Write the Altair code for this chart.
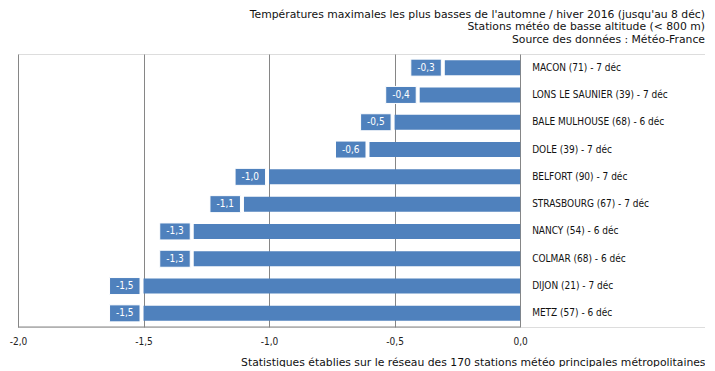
import altair as alt
import pandas as pd

stations = [
    "MACON (71) - 7 déc",
    "LONS LE SAUNIER (39) - 7 déc",
    "BALE MULHOUSE (68) - 6 déc",
    "DOLE (39) - 7 déc",
    "BELFORT (90) - 7 déc",
    "STRASBOURG (67) - 7 déc",
    "NANCY (54) - 6 déc",
    "COLMAR (68) - 6 déc",
    "DIJON (21) - 7 déc",
    "METZ (57) - 6 déc",
]
values = [-0.3, -0.4, -0.5, -0.6, -1.0, -1.1, -1.3, -1.3, -1.5, -1.5]
value_labels = [f"{v:.1f}".replace(".", ",") for v in values]
tick_values = [-2.0, -1.5, -1.0, -0.5, 0.0]
title_lines = [
    "Températures maximales les plus basses de l'automne / hiver 2016 (jusqu'au 8 déc)",
    "Stations météo de basse altitude (< 800 m)",
    "Source des données : Météo-France",
]
footer = "Statistiques établies sur le réseau des 170 stations météo principales métropolitaines"

df = pd.DataFrame({"station": stations, "value": values, "label": value_labels})
axis_line = pd.DataFrame({"value": [-2.0], "end": [0.0]})

FONT = "DejaVu Sans Condensed, Liberation Sans, sans-serif"
WIDE_FONT = "DejaVu Sans, Verdana, sans-serif"
W, H = 687, 273
BLUE = "#4F81BD"
GRID = "#868686"

x = alt.X(
    "value:Q",
    scale=alt.Scale(domain=[-2.0, 0.7363], nice=False, zero=False),
    axis=alt.Axis(
        values=tick_values,
        grid=True,
        gridColor=GRID,
        gridWidth=1,
        gridOpacity=1,
        domain=False,
        ticks=False,
        labelFlush=False,
        labelPadding=9,
        labelFontSize=10,
        labelFont=FONT,
        labelColor="#222222",
        labelExpr="replace(replace(format(datum.value, '.1f'), '.', ','), '\u2212', '-')",
        title=footer,
        titleAnchor="end",
        titleFontSize=10.8,
        titleFont=WIDE_FONT,
        titleFontWeight="normal",
        titleColor="#111111",
        titlePadding=10,
    ),
)
y = alt.Y(
    "station:N",
    sort=None,
    axis=None,
    scale=alt.Scale(paddingInner=0, paddingOuter=0),
)

base = alt.Chart(df)

rule = alt.Chart(axis_line).mark_rule(color=GRID, strokeWidth=1).encode(
    x=x,
    x2="end:Q",
    y=alt.value(H),
)

bars = base.mark_bar(size=15, color=BLUE).encode(x=x, x2=alt.datum(0), y=y)

boxes = base.mark_bar(
    size=17, color=BLUE, stroke="white", strokeWidth=1, xOffset=-34, x2Offset=-3.5
).encode(x=x, x2=alt.X2("value:Q"), y=y)

box_text = base.mark_text(
    color="white", fontSize=10, font=FONT, align="center", baseline="middle", dx=-18.75
).encode(x=x, y=y, text="label:N")

cat_text = base.mark_text(
    color="#111111", fontSize=10, font=FONT, align="left", baseline="middle", dx=12
).encode(x=alt.datum(0), y=y, text="station:N")

chart = (
    alt.layer(bars, rule, boxes, box_text, cat_text)
    .properties(
        width=W,
        height=H,
        padding={"left": 1, "top": 0, "right": 0, "bottom": 0},
        title=alt.TitleParams(
            text=title_lines,
            anchor="end",
            fontSize=10.8,
            font=WIDE_FONT,
            fontWeight="normal",
            color="#111111",
            lineHeight=12.7,
            offset=9,
        ),
    )
    .configure_view(stroke=None)
    .configure(background="white")
)

chart.save("out.html", embed_options={"renderer": "svg", "actions": False})
